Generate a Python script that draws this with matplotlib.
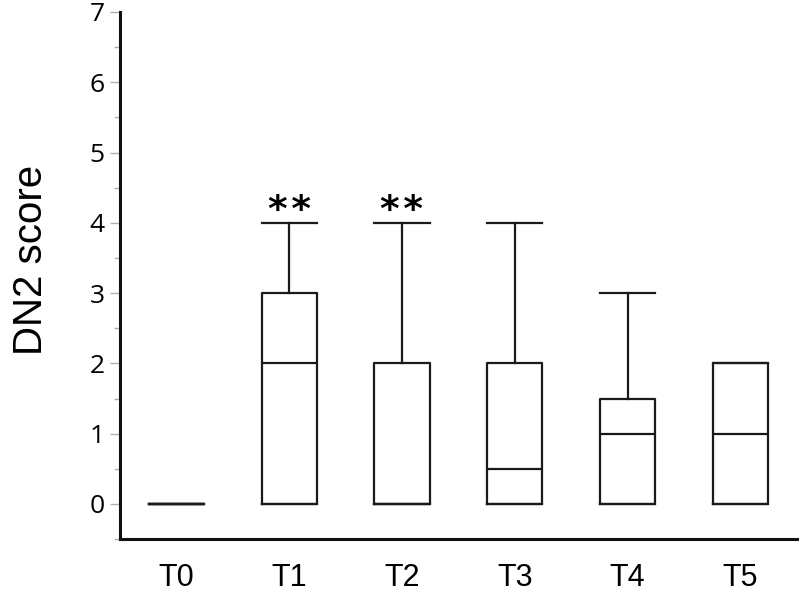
import matplotlib.pyplot as plt

groups = ['T0', 'T1', 'T2', 'T3', 'T4', 'T5']
whis_lo = [0, 0, 0, 0, 0, 0]
q1 = [0, 0, 0, 0, 0, 0]
medians = [0, 2, 0, 0.5, 1, 1]
q3 = [0, 3, 2, 2, 1.5, 2]
whis_hi = [0, 4, 4, 4, 3, 2]
signif = ['', '*\u200a*', '*\u200a*', '', '', '']

stats = []
for i in range(len(groups)):
    stats.append({'label': groups[i], 'whislo': whis_lo[i], 'q1': q1[i],
                  'med': medians[i], 'q3': q3[i], 'whishi': whis_hi[i], 'fliers': []})

fig = plt.figure(figsize=(8, 5.97), dpi=100)
ax = fig.add_axes([0.15, 0.097, 0.846, 0.883])

line = dict(color='#1a1a1a', linewidth=1.6)
ax.bxp(stats, positions=range(len(groups)), widths=0.49, capwidths=0.49,
       showfliers=False, boxprops=line, medianprops=line,
       whiskerprops=line, capprops=line)

# significance marks
for i, s in enumerate(signif):
    if s:
        ax.text(i, whis_hi[i] + 0.02, s, ha='center', va='baseline', fontsize=27,
                family='DejaVu Sans', fontweight='bold')

ax.set_xlim(-0.5, 5.5)
ax.set_ylim(-0.5, 7)
ax.set_yticks(range(0, 8))
ax.set_yticks([0.5 + k for k in range(-1, 7)], minor=True)
ax.tick_params(axis='y', which='major', length=7, width=1, color='#b0b0b0',
               labelsize=19, pad=4)
ax.tick_params(axis='y', which='minor', length=4, width=1, color='#b0b0b0')
ax.tick_params(axis='x', length=0, labelsize=22, pad=17)
for lab in ax.get_yticklabels():
    lab.set_family('Open Sans')
for lab in ax.get_xticklabels():
    lab.set_family('Liberation Sans')

ax.set_ylabel('DN2 score', fontsize=29, family='Liberation Sans')
ax.yaxis.set_label_coords(-0.104, 0.53)

for sp in ['top', 'right']:
    ax.spines[sp].set_visible(False)
for sp in ['left', 'bottom']:
    ax.spines[sp].set_linewidth(2.2)
    ax.spines[sp].set_color('#111111')

plt.savefig('out.png', dpi=100)
